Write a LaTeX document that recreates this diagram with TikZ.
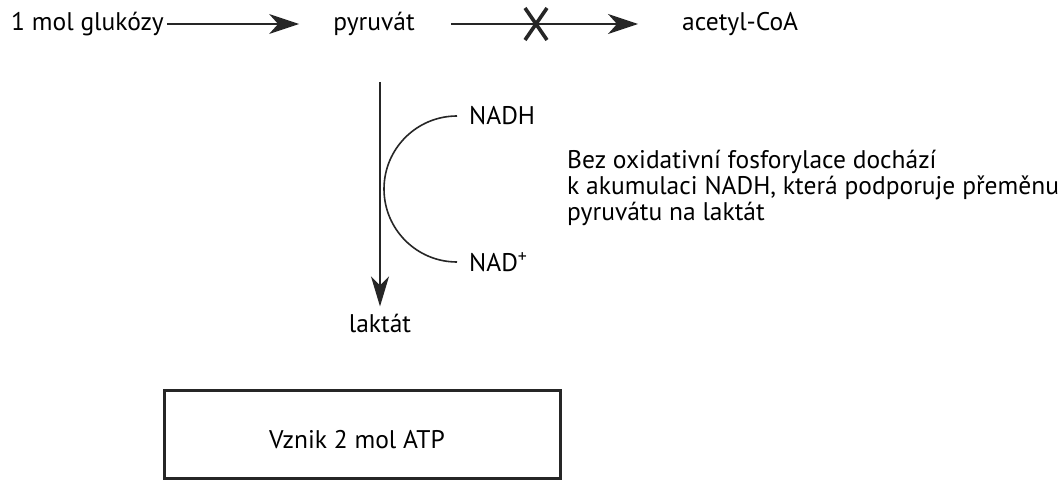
\documentclass[tikz,border=0pt]{standalone}
\usepackage{fontspec}
\setmainfont{PT Sans}
\usetikzlibrary{positioning,calc,arrows.meta}

\tikzset{
    lbl/.style={inner sep=1pt, font=\fontsize{25.5}{26}\selectfont},
    flow/.style={line width=1.6pt, draw=black!85, -{Stealth[length=30pt,width=20pt,inset=9pt]}}
}

\begin{document}
\begin{tikzpicture}[x=1pt, y=1pt]
    \useasboundingbox (0,0) rectangle (1064,480);

    % top row
    \node [lbl, anchor=west] (gluc) at (10,456) {1 mol glukózy};
    \node [lbl] (pyr) at (374,456) {pyruvát};
    \node [lbl, anchor=west] (acet) at (681,456) {acetyl-CoA};

    % glucose to pyruvate
    \draw [flow, shorten <=2pt, shorten >=33pt] (gluc.east) -- (pyr.west);

    % blocked step to acetyl-CoA
    \draw [flow, shorten <=35pt, shorten >=43pt] (pyr.east) -- (acet.west);
    \coordinate (block) at (536,456);
    \draw [line width=3.6pt, black!85] ($(block)+(-11,16)$) -- ($(block)+(11,-16)$);
    \draw [line width=3.6pt, black!85] ($(block)+(11,16)$) -- ($(block)+(-11,-16)$);

    % pyruvate down to lactate
    \node [lbl] (lak) at (380,157) {laktát};
    \draw [flow, -{Stealth[length=30pt,width=18pt,inset=9pt]}, shorten >=6pt]
        (lak.north |- 0,398) -- (lak.north);

    % NADH -> NAD+
    \node [lbl, anchor=west] (nadh) at (468,364) {NADH};
    \node [lbl, anchor=west] (nadp) at (468,218) {NAD\textsuperscript{+}};
    \draw [line width=1.6pt, black!85] ([xshift=-11pt]nadh.west) arc[start angle=90, end angle=270, radius=73];

    % explanation
    \node [lbl, anchor=north west, align=left] (note) at (566,331)
        {Bez oxidativní fosforylace dochází\\
         k akumulaci NADH, která podporuje přeměnu\\
         pyruvátu na laktát};

    % result box
    \node [draw=black!85, line width=3pt, minimum width=396pt, minimum height=88pt] (atp) at (362,46) {};
    \node [lbl] (atptxt) at (357,40) {Vznik 2 mol ATP};
\end{tikzpicture}
\end{document}
